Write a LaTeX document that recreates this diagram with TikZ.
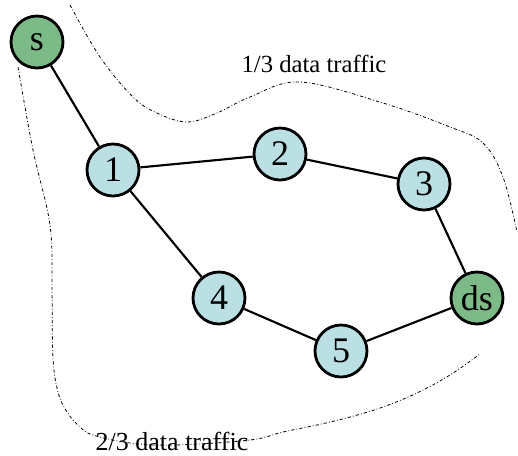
\documentclass[tikz,border=0pt]{standalone}
\usepackage{fontspec}
\setmainfont{Liberation Serif}
\definecolor{relayfill}{RGB}{186,224,227}
\definecolor{endfill}{RGB}{124,186,136}
\tikzset{
  relay/.style={circle, draw=black, line width=2.1pt, fill=relayfill,
    minimum size=39pt, inner sep=0pt,
    font=\fontsize{27}{27}\selectfont},
  endpoint/.style={relay, fill=endfill},
  link/.style={line width=1.6pt},
  flow/.style={line width=0.6pt, dash pattern=on 2.4pt off 1.6pt on 0.6pt off 1.6pt},
  flowlabel/.style={font=\fontsize{18.5}{20}\selectfont, inner sep=0pt}
}
\begin{document}
\begin{tikzpicture}[x=0.75pt,y=-0.75pt]
\useasboundingbox (0,0) rectangle (518,455);

% traffic split boundaries
\draw[flow] plot[smooth, tension=0.6] coordinates {
  (70,5) (100,57) (133,97) (157,113) (187,122) (217,113) (250,97)
  (300,82) (383,103) (450,127) (483,143) (503,177) (517,232)};
\draw[flow] plot[smooth, tension=0.6] coordinates {
  (18,67) (33,150) (50,225) (52,292) (53,358) (58,392) (67,412)
  (80,427) (93,435) (130,443) (175,445) (250,440) (283,432) (317,425)
  (350,417) (383,407) (417,393) (450,375) (480,354)};

\node[flowlabel] (upper) at (314,64) {1/3 data traffic};
\node[flowlabel, font=\fontsize{19.5}{21}\selectfont, anchor=base] (lower) at (172,450) {2/3 data traffic};

% network
\node[endpoint] (s)  at (37,42)  {s};
\node[relay]    (n1) at (113,170) {1};
\node[relay]    (n2) at (280,154) {2};
\node[relay]    (n3) at (424,184) {3};
\node[relay]    (n4) at (219,298) {4};
\node[relay]    (n5) at (341,351) {5};
\node[endpoint] (ds) at (477,298) {ds};

\draw[link] (s) -- (n1);
\draw[link] (n1) -- (n2);
\draw[link] (n2) -- (n3);
\draw[link] (n3) -- (ds);
\draw[link] (n1) -- (n4);
\draw[link] (n4) -- (n5);
\draw[link] (n5) -- (ds);
\end{tikzpicture}
\end{document}
